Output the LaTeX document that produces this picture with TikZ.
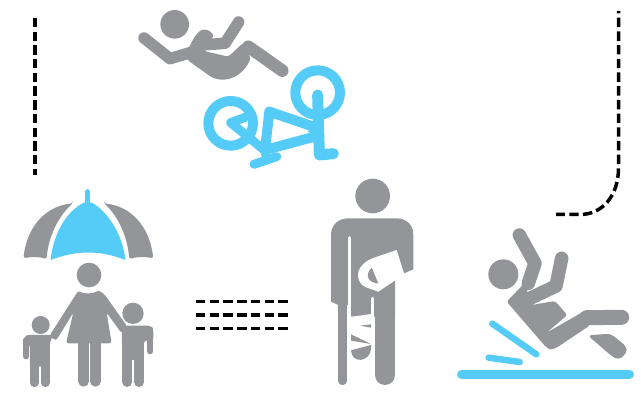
\documentclass[tikz,border=0pt]{standalone}
\definecolor{figgrey}{HTML}{939598}
\definecolor{figblue}{HTML}{55CBF8}
\begin{document}
\begin{tikzpicture}[
    x=1pt, y=-1pt,
    greyfill/.style={fill=figgrey, rounded corners=2.5pt},
    bluefill/.style={fill=figblue},
    whitefill/.style={fill=white},
    gapline/.style={draw=white, line width=3pt, line cap=round},
    greyline/.style={draw=figgrey, line cap=round, line join=round},
    blueline/.style={draw=figblue, line cap=round, line join=round},
    dashline/.style={draw=black, line width=3.5pt, dash pattern=on 9.4pt off 4.3pt},
    zoomed/.style={scale=0.33333}
]
    \useasboundingbox (0,0) rectangle (641,398);

    % Dashed lines
    \draw[dashline] (35,18) -- (35,175);
    \draw[dashline, dash phase=7pt] (618.5,11) -- (618.5,168) .. controls (618.5,195) and (603,214.5) .. (580,214.5) -- (556,214.5);
    \draw[dashline] (196,301.5) -- (288,301.5);
    \draw[dashline] (196,315) -- (288,315);
    \draw[dashline] (196,328.5) -- (288,328.5);

    % Rider
    \begin{scope}[shift={(130,0)}, zoomed]
        \fill[figgrey] (134,73) circle (43);
        \draw[greyline, line width=11.5pt] (42,114) -- (120,176) -- (190,155);
        \fill[greyfill] (165,165) -- (195,108) -- (215,88) -- (235,90) -- (252,105) -- (222,153) -- (295,170) -- (340,128)
            -- (362,175) .. controls (340,225) and (295,250) .. (245,232) -- (175,182) -- cycle;
        \draw[greyline, line width=11.5pt] (215,135) -- (285,130) -- (326,66);
        \draw[greyline, line width=12.5pt] (355,140) -- (457,212);

        % Bicycle
        \draw[figblue, line width=10pt] (302,370) circle (67);
        \draw[figblue, line width=10pt] (563,278) circle (67);
        \draw[blueline, line width=11pt] (563,285) -- (568,465) -- (610,461);
        \draw[blueline, line width=10pt] (565,385) -- (418,335) -- (405,450) -- (565,407);
        \fill[bluefill] (532,394) -- (556,384) -- (556,406) -- cycle;
        \draw[blueline, line width=9pt] (345,352) -- (302,368) -- (405,452);
        \draw[blueline, line width=9pt] (372,493) -- (440,470);
        \draw[blueline, line width=8pt] (402,450) -- (410,478);
    \end{scope}

    % Umbrella and family
    \begin{scope}[shift={(10,180)}, zoomed]
        \draw[blueline, line width=5pt] (234,35) -- (234,70);
        \fill[bluefill] (122,240) .. controls (128,170) and (165,95) .. (222,68) -- (246,68)
            .. controls (295,95) and (340,170) .. (346,240) .. controls (270,210) and (200,210) .. (122,240) -- cycle;
        \fill[greyfill] (188,70) .. controls (105,80) and (52,140) .. (40,235) .. controls (65,230) and (90,230) .. (110,238)
            .. controls (115,170) and (145,110) .. (188,70) -- cycle;
        \fill[greyfill] (282,70) .. controls (365,80) and (418,140) .. (430,235) .. controls (405,230) and (380,230) .. (358,238)
            .. controls (352,170) and (325,110) .. (282,70) -- cycle;
        % Mother
        \fill[figgrey] (237,285) circle (37);
        \fill[greyfill] (205,332) .. controls (220,342) and (250,342) .. (265,330) -- (285,345) -- (352,440) -- (335,460) -- (290,398)
            -- (305,490) -- (168,490) -- (190,398) -- (138,482) -- (118,468) -- cycle;
        \draw[greyline, line width=10.7pt] (221,490) -- (221,604);
        \draw[greyline, line width=10.7pt] (256,490) -- (256,604);
        % Left child
        \fill[figgrey] (92,435) circle (27);
        \fill[greyfill] (40,482) -- (48,465) -- (130,465) -- (120,485) -- (120,560) -- (60,560) -- (60,495) -- (40,495) -- cycle;
        \draw[greyline, line width=5.5pt] (48,480) -- (48,530);
        \draw[greyline, line width=9pt] (73,540) -- (73,608);
        \draw[greyline, line width=9pt] (106,540) -- (106,608);
        % Right child
        \fill[figgrey] (369,400) circle (32);
        \fill[greyfill] (335,437) -- (420,437) -- (430,450) -- (430,482) -- (402,482) -- (402,540) -- (337,540) -- cycle;
        \draw[greyline, line width=6pt] (421,448) -- (421,514);
        \draw[greyline, line width=10pt] (352,525) -- (352,606);
        \draw[greyline, line width=10pt] (388,525) -- (388,606);
    \end{scope}

    % Man on crutch
    \begin{scope}[shift={(320,170)}, zoomed]
        \fill[figgrey] (158,78) circle (52);
        \fill[figgrey] (33,395) -- (33,195) .. controls (33,165) and (55,145) .. (85,145) -- (230,145) .. controls (260,145) and (280,165) .. (280,195)
            -- (280,298) -- (225,322) -- (225,440) -- (92,440) -- (92,405) -- (55,405) -- cycle;
        \draw[greyline, line width=9pt] (68,400) -- (68,632);
        \draw[greyline, line width=20pt] (195,420) -- (195,615);
        % Gaps
        \draw[gapline] (88,203) -- (88,650);
        \draw[gapline] (158,385) -- (158,650);
        \fill[whitefill] (92,441) -- (153,432) -- (153,450) -- (92,450) -- cycle;
        % Cast on the arm
        \fill[whitefill] (230,240) -- (253,313) -- (175,365) -- (150,356) .. controls (115,350) and (100,310) .. (130,282) .. controls (140,272) and (150,268) .. (160,264) -- cycle;
        \fill[figgrey] (155,293) -- (175,340) .. controls (150,340) and (130,318) .. (155,293) -- cycle;
        % Cast on the leg
        \fill[figgrey] (120,467) -- (153,463) -- (153,473) -- cycle;
        \fill[figgrey] (93,493) -- (153,522) -- (93,512) -- cycle;
        \fill[figgrey] (93,541) -- (153,525) -- (153,535) .. controls (150,578) and (95,582) .. (93,541) -- cycle;
    \end{scope}

    % Falling figure
    \begin{scope}[shift={(450,220)}, zoomed]
        \draw[blueline, line width=9.3pt] (35,463) -- (538,463);
        \draw[blueline, line width=6.5pt] (127,311) -- (259,403);
        \draw[blueline, line width=6.5pt] (116,413) -- (209,426);
        \fill[figgrey] (160,163) circle (45);
        \draw[greyline, line width=13.5pt] (208,45) -- (255,130) -- (235,190);
        \fill[greyfill] (170,245) -- (225,188) -- (235,225) -- (245,255) -- (315,243) -- (352,285) -- (290,338)
            -- (405,272) -- (420,316) -- (320,383) -- (300,390) -- (285,378) -- cycle;
        \draw[greyline, line width=13.5pt] (335,115) -- (318,198) -- (240,235);
        \draw[greyline, line width=15pt] (410,293) -- (515,292);
        \fill[figgrey, rounded corners=4pt] (413,346) -- (482,341) -- (530,380) -- (530,400) -- (505,420) -- (485,408) -- cycle;
    \end{scope}
\end{tikzpicture}
\end{document}
